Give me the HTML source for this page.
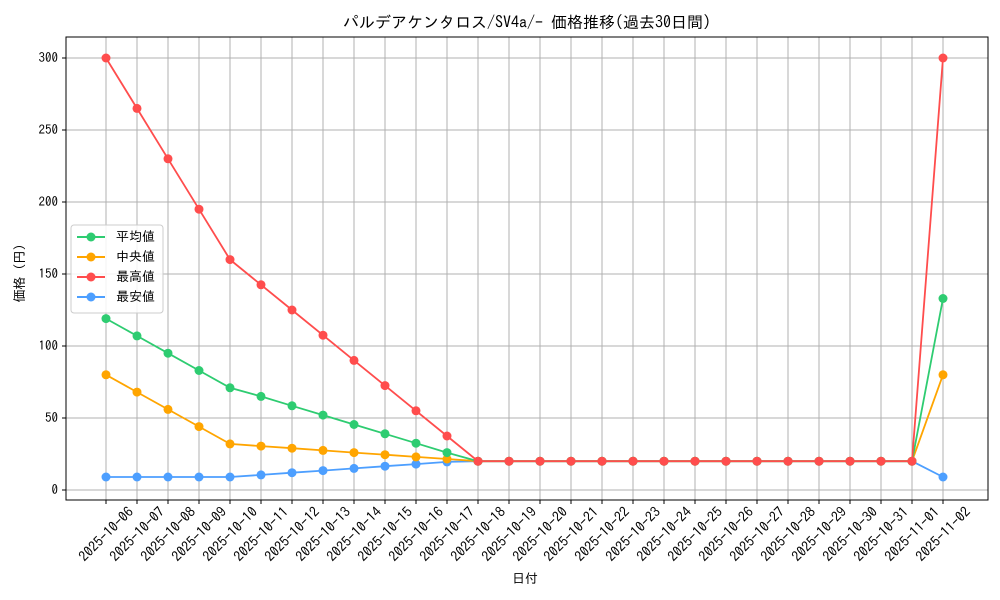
<!DOCTYPE html>
<html><head><meta charset="utf-8"><style>
body{margin:0;background:#fff}
svg{display:block;font-family:"IPAGothic","Liberation Sans","Noto Sans CJK JP",sans-serif}
</style></head><body>
<svg width="1000" height="600" viewBox="0 0 1000 600">
<defs>
<marker id="mg" markerUnits="userSpaceOnUse" markerWidth="10" markerHeight="10" refX="5" refY="5"><circle cx="5" cy="5" r="4.5" fill="#2ecc71"/></marker>
<marker id="mo" markerUnits="userSpaceOnUse" markerWidth="10" markerHeight="10" refX="5" refY="5"><circle cx="5" cy="5" r="4.5" fill="#ffa500"/></marker>
<marker id="mr" markerUnits="userSpaceOnUse" markerWidth="10" markerHeight="10" refX="5" refY="5"><circle cx="5" cy="5" r="4.5" fill="#ff4d4d"/></marker>
<marker id="mb" markerUnits="userSpaceOnUse" markerWidth="10" markerHeight="10" refX="5" refY="5"><circle cx="5" cy="5" r="4.5" fill="#4d9fff"/></marker>
</defs>
<rect width="1000" height="600" fill="#fff"/>
<g stroke="#b0b0b0" stroke-width="1">
<line x1="66" x2="988" y1="490" y2="490"/><line x1="66" x2="988" y1="418" y2="418"/><line x1="66" x2="988" y1="346" y2="346"/><line x1="66" x2="988" y1="274" y2="274"/><line x1="66" x2="988" y1="202" y2="202"/><line x1="66" x2="988" y1="130" y2="130"/><line x1="66" x2="988" y1="58" y2="58"/>
<path d="M106 37V500M137 37V500M168 37V500M199 37V500M230 37V500M261 37V500M292 37V500M323 37V500M354 37V500M385 37V500M416 37V500M447 37V500M478 37V500M509 37V500M540 37V500M571 37V500M602 37V500M633 37V500M664 37V500M695 37V500M726 37V500M757 37V500M788 37V500M819 37V500M850 37V500M881 37V500M912 37V500M943 37V500"/>
</g>
<path stroke="#000" d="M106 500V504M137 500V504M168 500V504M199 500V504M230 500V504M261 500V504M292 500V504M323 500V504M354 500V504M385 500V504M416 500V504M447 500V504M478 500V504M509 500V504M540 500V504M571 500V504M602 500V504M633 500V504M664 500V504M695 500V504M726 500V504M757 500V504M788 500V504M819 500V504M850 500V504M881 500V504M912 500V504M943 500V504"/>
<rect x="66" y="37" width="922" height="463" fill="none" stroke="#000" stroke-width="1"/>
<g fill="none" stroke-width="1.8">
<polyline stroke="#4d9fff" marker-start="url(#mb)" marker-mid="url(#mb)" marker-end="url(#mb)" points="106,477 137,477 168,477 199,477 230,477 261,474.9 292,472.7 323,470.6 354,468.4 385,466.2 416,464.1 447,461.9 478,461.2 509,461.2 540,461.2 571,461.2 602,461.2 633,461.2 664,461.2 695,461.2 726,461.2 757,461.2 788,461.2 819,461.2 850,461.2 881,461.2 912,461.2 943,477"/>
<polyline stroke="#ffa500" marker-start="url(#mo)" marker-mid="url(#mo)" marker-end="url(#mo)" points="106,374.8 137,392.1 168,409.4 199,426.6 230,443.9 261,446.1 292,448.2 323,450.4 354,452.6 385,454.7 416,456.9 447,459 478,461.2 509,461.2 540,461.2 571,461.2 602,461.2 633,461.2 664,461.2 695,461.2 726,461.2 757,461.2 788,461.2 819,461.2 850,461.2 881,461.2 912,461.2 943,374.8"/>
<polyline stroke="#2ecc71" marker-start="url(#mg)" marker-mid="url(#mg)" marker-end="url(#mg)" points="106,318.6 137,335.9 168,353.2 199,370.5 230,387.8 261,396.4 292,405.8 323,415.1 354,424.5 385,433.8 416,443.2 447,452.6 478,461.2 509,461.2 540,461.2 571,461.2 602,461.2 633,461.2 664,461.2 695,461.2 726,461.2 757,461.2 788,461.2 819,461.2 850,461.2 881,461.2 912,461.2 943,298.5"/>
<polyline stroke="#ff4d4d" marker-start="url(#mr)" marker-mid="url(#mr)" marker-end="url(#mr)" points="106,58 137,108.4 168,158.8 199,209.2 230,259.6 261,284.8 292,310 323,335.2 354,360.4 385,385.6 416,410.8 447,436 478,461.2 509,461.2 540,461.2 571,461.2 602,461.2 633,461.2 664,461.2 695,461.2 726,461.2 757,461.2 788,461.2 819,461.2 850,461.2 881,461.2 912,461.2 943,58"/>
</g>
<g font-size="13" text-anchor="end" fill="#000">
<text x="58" y="494">0</text><text x="58" y="422">50</text><text x="58" y="350">100</text><text x="58" y="278">150</text><text x="58" y="206">200</text><text x="58" y="134">250</text><text x="58" y="62">300</text>
</g>
<g stroke="#000"><line x1="62" x2="66" y1="490" y2="490"/><line x1="62" x2="66" y1="418" y2="418"/><line x1="62" x2="66" y1="346" y2="346"/><line x1="62" x2="66" y1="274" y2="274"/><line x1="62" x2="66" y1="202" y2="202"/><line x1="62" x2="66" y1="130" y2="130"/><line x1="62" x2="66" y1="58" y2="58"/></g>
<g font-size="14" text-anchor="middle" dominant-baseline="central" fill="#000">
<text transform="translate(106,534) rotate(-45)">2025-10-06</text>
<text transform="translate(137,534) rotate(-45)">2025-10-07</text>
<text transform="translate(168,534) rotate(-45)">2025-10-08</text>
<text transform="translate(199,534) rotate(-45)">2025-10-09</text>
<text transform="translate(230,534) rotate(-45)">2025-10-10</text>
<text transform="translate(261,534) rotate(-45)">2025-10-11</text>
<text transform="translate(292,534) rotate(-45)">2025-10-12</text>
<text transform="translate(323,534) rotate(-45)">2025-10-13</text>
<text transform="translate(354,534) rotate(-45)">2025-10-14</text>
<text transform="translate(385,534) rotate(-45)">2025-10-15</text>
<text transform="translate(416,534) rotate(-45)">2025-10-16</text>
<text transform="translate(447,534) rotate(-45)">2025-10-17</text>
<text transform="translate(478,534) rotate(-45)">2025-10-18</text>
<text transform="translate(509,534) rotate(-45)">2025-10-19</text>
<text transform="translate(540,534) rotate(-45)">2025-10-20</text>
<text transform="translate(571,534) rotate(-45)">2025-10-21</text>
<text transform="translate(602,534) rotate(-45)">2025-10-22</text>
<text transform="translate(633,534) rotate(-45)">2025-10-23</text>
<text transform="translate(664,534) rotate(-45)">2025-10-24</text>
<text transform="translate(695,534) rotate(-45)">2025-10-25</text>
<text transform="translate(726,534) rotate(-45)">2025-10-26</text>
<text transform="translate(757,534) rotate(-45)">2025-10-27</text>
<text transform="translate(788,534) rotate(-45)">2025-10-28</text>
<text transform="translate(819,534) rotate(-45)">2025-10-29</text>
<text transform="translate(850,534) rotate(-45)">2025-10-30</text>
<text transform="translate(881,534) rotate(-45)">2025-10-31</text>
<text transform="translate(912,534) rotate(-45)">2025-11-01</text>
<text transform="translate(943,534) rotate(-45)">2025-11-02</text>
</g>
<text x="525" y="583" font-size="13" text-anchor="middle">日付</text>
<text transform="translate(24,270) rotate(-90)" font-size="13" text-anchor="middle">価格（円）</text>
<text x="527" y="28" font-size="16" text-anchor="middle">パルデアケンタロス/SV4a/- 価格推移(過去30日間)</text>
<g>
<rect x="71" y="225" width="92" height="88" rx="3" fill="#fff" fill-opacity="0.85" stroke="#ccc"/>
<line x1="77" x2="105" y1="237" y2="237" stroke="#2ecc71" stroke-width="2"/><circle cx="91" cy="237" r="4.5" fill="#2ecc71"/>
<line x1="77" x2="105" y1="257" y2="257" stroke="#ffa500" stroke-width="2"/><circle cx="91" cy="257" r="4.5" fill="#ffa500"/>
<line x1="77" x2="105" y1="277" y2="277" stroke="#ff4d4d" stroke-width="2"/><circle cx="91" cy="277" r="4.5" fill="#ff4d4d"/>
<line x1="77" x2="105" y1="297" y2="297" stroke="#4d9fff" stroke-width="2"/><circle cx="91" cy="297" r="4.5" fill="#4d9fff"/>
<g font-size="13"><text x="116" y="241">平均値</text><text x="116" y="261">中央値</text><text x="116" y="281">最高値</text><text x="116" y="301">最安値</text></g>
</g>
</svg>
</body></html>
